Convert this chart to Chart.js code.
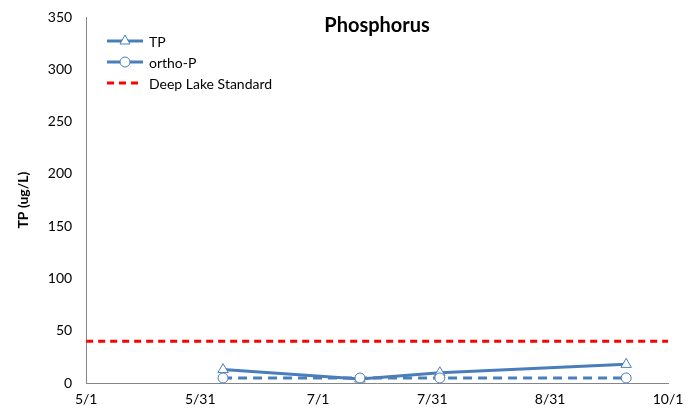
<!DOCTYPE html>
<html>
<head>
<meta charset="utf-8">
<script src="https://cdn.jsdelivr.net/npm/chart.js@4/dist/chart.umd.min.js"></script>
<style>
  html, body { margin: 0; padding: 0; background: #fff; }
  #wrap { width: 688px; height: 412px; position: relative; }
</style>
</head>
<body>
<div id="wrap"><canvas id="phosChart"></canvas></div>
<script>
// sample dates (month/day) and values
const sampleDates = ['6/6', '7/12', '8/2', '9/20'];
const tpValues = [13, 4, 10, 18];
const orthoValues = [5, 5, 5, 5];
const standardValue = 40;

const tickLabels = ['5/1', '5/31', '7/1', '7/31', '8/31', '10/1'];
const yTicks = [0, 50, 100, 150, 200, 250, 300, 350];

// days since 5/1
const monthStart = { 5: 0, 6: 31, 7: 61, 8: 92, 9: 123, 10: 153 };
function dayOffset(md) {
  const [m, d] = md.split('/').map(Number);
  return monthStart[m] + d - 1;
}
const tickDays = tickLabels.map(dayOffset);

const blue = '#4a7ebb';
const red = '#ff0000';
const font = 'Lato, "Open Sans", sans-serif';

const tpPoints = sampleDates.map((d, i) => ({ x: dayOffset(d), y: tpValues[i] }));
const orthoPoints = sampleDates.map((d, i) => ({ x: dayOffset(d), y: orthoValues[i] }));
const standardPoints = [
  { x: tickDays[0], y: standardValue },
  { x: tickDays[tickDays.length - 1], y: standardValue }
];

// title + legend drawn inside the plot area
const overlayPlugin = {
  id: 'overlay',
  afterDraw(chart) {
    const ctx = chart.ctx;
    const area = chart.chartArea;
    ctx.save();
    ctx.fillStyle = '#000';
    ctx.font = 'bold 20px ' + font;
    ctx.textAlign = 'center';
    ctx.textBaseline = 'middle';
    ctx.fillText('Phosphorus', (area.left + area.right) / 2, 26);

    const items = [
      { text: 'TP', color: blue, dash: [], marker: 'triangle' },
      { text: 'ortho-P', color: blue, dash: [], marker: 'circle' },
      { text: 'Deep Lake Standard', color: red, dash: [7, 5], marker: null }
    ];
    const x0 = 107, x1 = 143;
    ctx.font = '14px ' + font;
    ctx.textAlign = 'left';
    items.forEach((it, i) => {
      const y = 41 + i * 21;
      ctx.strokeStyle = it.color;
      ctx.lineWidth = 3;
      ctx.setLineDash(it.dash);
      ctx.beginPath();
      ctx.moveTo(x0, y);
      ctx.lineTo(x1, y);
      ctx.stroke();
      ctx.setLineDash([]);
      const cx = (x0 + x1) / 2;
      if (it.marker) {
        ctx.lineWidth = 1;
        ctx.fillStyle = '#fff';
        ctx.beginPath();
        if (it.marker === 'circle') {
          ctx.arc(cx, y, 5, 0, Math.PI * 2);
        } else {
          ctx.moveTo(cx, y - 6);
          ctx.lineTo(cx + 5, y + 3);
          ctx.lineTo(cx - 5, y + 3);
          ctx.closePath();
        }
        ctx.fill();
        ctx.stroke();
      }
      ctx.fillStyle = '#000';
      ctx.fillText(it.text, x1 + 6, y + 1);
    });
    ctx.restore();
  }
};

const ctx = document.getElementById('phosChart').getContext('2d');
new Chart(ctx, {
  type: 'line',
  data: {
    datasets: [
      {
        label: 'Deep Lake Standard',
        data: standardPoints,
        borderColor: red,
        borderWidth: 3,
        borderDash: [7, 5],
        pointRadius: 0
      },
      {
        label: 'ortho-P',
        data: orthoPoints,
        borderColor: blue,
        borderWidth: 3,
        borderDash: [9, 6],
        pointStyle: 'circle',
        pointRadius: 5,
        pointBorderWidth: 1,
        pointBackgroundColor: '#fff',
        pointBorderColor: blue
      },
      {
        label: 'TP',
        data: tpPoints,
        borderColor: blue,
        borderWidth: 3,
        pointStyle: 'triangle',
        pointRadius: 6,
        pointBorderWidth: 1,
        pointBackgroundColor: '#fff',
        pointBorderColor: blue
      }
    ]
  },
  options: {
    responsive: true,
    maintainAspectRatio: false,
    animation: false,
    layout: { padding: { top: 17, right: 20, left: 11, bottom: 2 } },
    plugins: {
      legend: { display: false },
      title: { display: false },
      tooltip: { enabled: false }
    },
    scales: {
      x: {
        type: 'linear',
        min: tickDays[0],
        max: tickDays[tickDays.length - 1],
        afterBuildTicks: axis => { axis.ticks = tickDays.map(v => ({ value: v })); },
        grid: { display: false, drawTicks: true, tickLength: 6, color: '#868686' },
        border: { color: '#868686', width: 1 },
        ticks: {
          color: '#000',
          font: { family: font, size: 14 },
          maxRotation: 0,
          autoSkip: false,
          padding: 2,
          callback: v => tickLabels[tickDays.indexOf(v)]
        }
      },
      y: {
        min: 0,
        max: 350,
        afterBuildTicks: axis => { axis.ticks = yTicks.map(v => ({ value: v })); },
        grid: { display: false, tickLength: 6 },
        border: { color: '#868686', width: 1 },
        ticks: {
          color: '#000',
          font: { family: font, size: 14 },
          padding: 8
        },
        title: {
          display: true,
          text: 'TP (ug/L)',
          color: '#000',
          font: { family: font, size: 14, weight: 'bold' },
          padding: { bottom: 8 }
        }
      }
    }
  },
  plugins: [overlayPlugin]
});
</script>
</body>
</html>
